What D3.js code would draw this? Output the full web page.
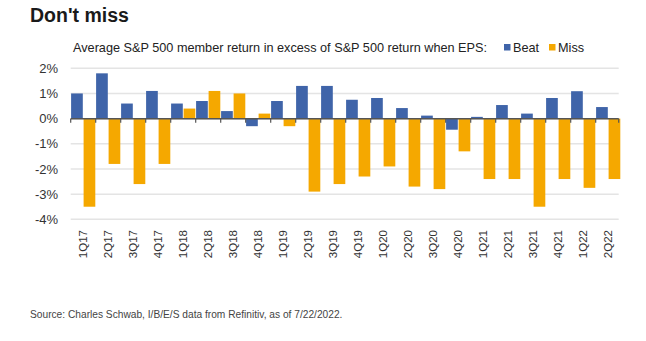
<!DOCTYPE html>
<html><head><meta charset="utf-8">
<script src="https://cdn.jsdelivr.net/npm/d3@7"></script>
<style>body{margin:0;background:#fff;} svg{display:block;}</style>
</head><body>
<script>
const categories = ["1Q17","2Q17","3Q17","4Q17","1Q18","2Q18","3Q18","4Q18","1Q19","2Q19","3Q19","4Q19","1Q20","2Q20","3Q20","4Q20","1Q21","2Q21","3Q21","4Q21","1Q22","2Q22"];
const beat = [1.0,1.8,0.6,1.1,0.6,0.7,0.3,-0.3,0.7,1.3,1.3,0.75,0.82,0.42,0.12,-0.44,0.07,0.54,0.2,0.82,1.09,0.46];
const miss = [-3.5,-1.8,-2.6,-1.8,0.4,1.1,1.0,0.2,-0.3,-2.9,-2.6,-2.3,-1.9,-2.7,-2.8,-1.3,-2.4,-2.4,-3.5,-2.4,-2.75,-2.4];
const yTicks = [2,1,0,-1,-2,-3,-4];
const seriesNames = ["Beat","Miss"];
const colors = ["#3f64a9","#f5a800"];

(function(){
const W=646,H=341;
const svg=d3.select("body").append("svg").attr("width",W).attr("height",H);
const font="'Liberation Sans', Arial, sans-serif";

svg.append("text").attr("x",30).attr("y",22).attr("font-family",font).attr("font-weight","bold")
  .attr("font-size",19.5).attr("fill","#1a1a1a").text("Don't miss");

const pl=70.7,pr=620.7,pt=68.3,pb=219.3;
const x=d3.scaleBand().domain(categories).range([pl,pr]).padding(0);
const xs=d3.scaleBand().domain([0,1]).range([0,x.bandwidth()]).padding(0);
const y=d3.scaleLinear().domain([-4,2]).range([pb,pt]);

svg.append("g").selectAll("line").data(yTicks).join("line")
  .attr("x1",pl).attr("x2",pr-2).attr("y1",d=>y(d)).attr("y2",d=>y(d))
  .attr("stroke","#e4e4e4").attr("stroke-width",1.5);

svg.append("g").selectAll("text").data(yTicks).join("text")
  .attr("x",58).attr("y",d=>y(d)).attr("dy","0.35em").attr("text-anchor","end")
  .attr("font-family",font).attr("font-size",13).attr("fill","#333")
  .text(d=>d+"%");

const series=[beat,miss];
series.forEach((vals,si)=>{
  svg.append("g").selectAll("rect").data(vals).join("rect")
    .attr("x",(d,i)=>x(categories[i])+xs(si)+0.4)
    .attr("width",xs.bandwidth()-0.8)
    .attr("y",d=>y(Math.max(0,d)))
    .attr("height",d=>Math.abs(y(d)-y(0)))
    .attr("fill",colors[si]);
});

svg.append("line").attr("x1",pl).attr("x2",pr-2).attr("y1",y(0)).attr("y2",y(0))
  .attr("stroke","#555").attr("stroke-width",1.5);
const bounds=categories.map(c=>x(c)).concat([pr-2]);
svg.append("g").selectAll("line").data(bounds).join("line")
  .attr("x1",d=>d).attr("x2",d=>d).attr("y1",y(0)).attr("y2",y(0)+4)
  .attr("stroke","#555").attr("stroke-width",1.2);

svg.append("g").selectAll("text").data(categories).join("text")
  .attr("transform",d=>`translate(${x(d)+x.bandwidth()/2},230) rotate(-90)`)
  .attr("text-anchor","end").attr("dy","0.35em")
  .attr("font-family",font).attr("font-size",11.5).attr("fill","#333")
  .text(d=>d);

svg.append("text").attr("x",73).attr("y",52).attr("font-family",font).attr("font-size",12.7)
  .attr("fill","#222").text("Average S&P 500 member return in excess of S&P 500 return when EPS:");
const lg=[{x:504},{x:549}];
lg.forEach((l,i)=>{
  svg.append("rect").attr("x",l.x).attr("y",44).attr("width",6.5).attr("height",6.5).attr("fill",colors[i]);
  svg.append("text").attr("x",l.x+9).attr("y",52).attr("font-family",font).attr("font-size",12.7)
    .attr("fill","#222").text(seriesNames[i]);
});

svg.append("text").attr("x",30).attr("y",318).attr("font-family",font).attr("font-size",10.2)
  .attr("fill","#444").text("Source: Charles Schwab, I/B/E/S data from Refinitiv, as of 7/22/2022.");
})();
</script>
</body></html>
